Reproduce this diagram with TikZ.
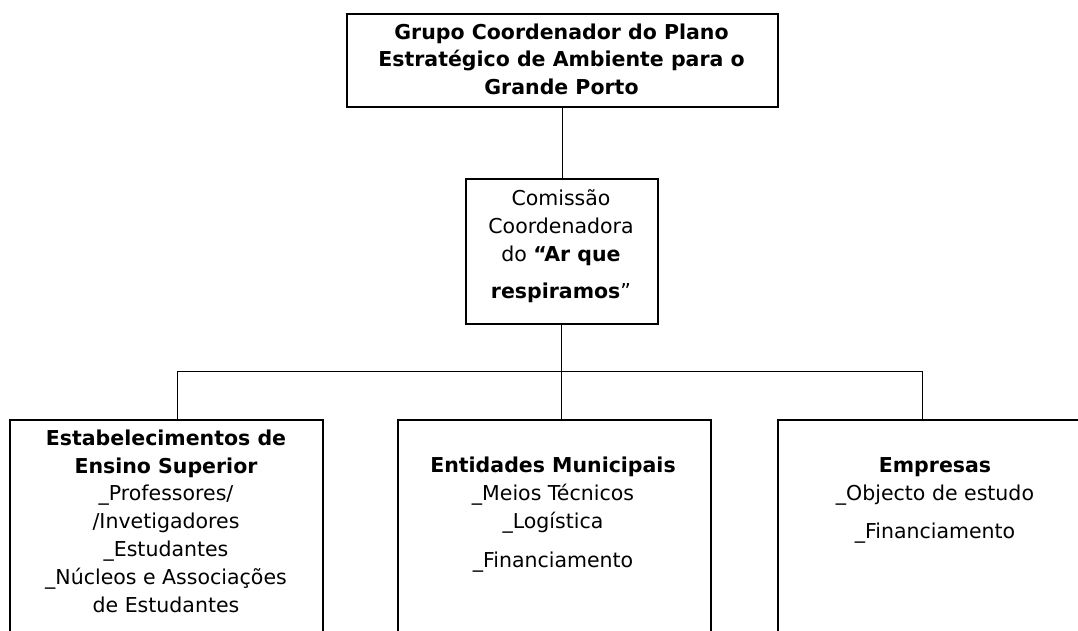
\documentclass[tikz,border=0pt]{standalone}
\usepackage{fontspec}
\setmainfont{DejaVu Sans}
\begin{document}
\begin{tikzpicture}[x=1pt,y=-1pt,
  boxnode/.style={draw=black, line width=1.5pt, inner sep=0pt, anchor=north west},
  txt/.style={align=center, inner sep=0pt, anchor=north, font={\fontsize{20.5}{27.7}\selectfont}},
  link/.style={draw=black, line width=1pt}]
\fill[white] (0,0) rectangle (1078,630);
\useasboundingbox (0,0) rectangle (1078,630);
\begin{scope}
\clip (0,0) rectangle (1078,630);
% boxes
\node[boxnode, minimum width=431pt, minimum height=93pt] (top) at (346,13) {};
\node[boxnode, minimum width=192pt, minimum height=145pt] (mid) at (465,178) {};
\node[boxnode, minimum width=313pt, minimum height=260pt] (bl) at (9,419) {};
\node[boxnode, minimum width=313pt, minimum height=260pt] (bm) at (397,419) {};
\node[boxnode, minimum width=313pt, minimum height=260pt] (br) at (777,419) {};
% texts
\node[txt, font={\fontsize{20.5}{27.5}\selectfont\bfseries}] (toptxt) at (561.5,21)
  {\rule{0pt}{18pt}Grupo Coordenador do Plano\\Estratégico de Ambiente para o\\Grande Porto};
\node[txt, font={\fontsize{20.5}{28}\selectfont}] (midtxt) at (561,187)
  {\rule{0pt}{18pt}Comissão\\Coordenadora\\do \textbf{“Ar que}\\[9pt]\textbf{respiramos}”};
\node[txt, font={\fontsize{20.5}{27.8}\selectfont}] (bltxt) at (166,427)
  {\rule{0pt}{18pt}\textbf{Estabelecimentos de}\\\textbf{Ensino Superior}\\\_Professores/\\/Invetigadores\\\_Estudantes\\\_Núcleos e Associações\\de Estudantes};
\node[txt, font={\fontsize{20.5}{28}\selectfont}] (bmtxt) at (553,454)
  {\rule{0pt}{18pt}\textbf{Entidades Municipais}\\\_Meios Técnicos\\\_Logística\\[11pt]\_Financiamento};
\node[txt, font={\fontsize{20.5}{28}\selectfont}] (brtxt) at (935,454)
  {\rule{0pt}{18pt}\textbf{Empresas}\\\_Objecto de estudo\\[10pt]\_Financiamento};
% connectors
\coordinate (busL) at (177,371);
\coordinate (busR) at (922,371);
\draw[link] (top.south) -- (top.south |- mid.north);
\draw[link] (mid.south) -- (mid.south |- bm.north);
\draw[link] (busL) -- (busR);
\draw[link] (busL) -- (busL |- bl.north);
\draw[link] (busR) -- (busR |- br.north);
\end{scope}
\end{tikzpicture}
\end{document}
